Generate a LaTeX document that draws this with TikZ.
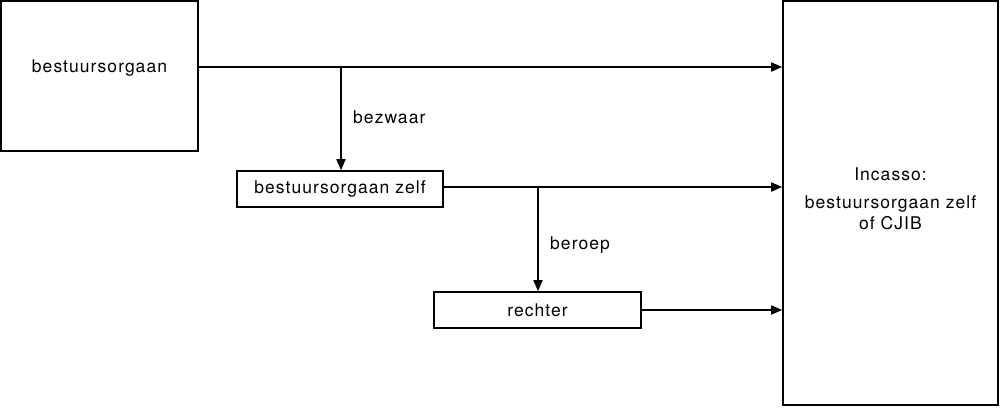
\documentclass[tikz,border=0pt]{standalone}
\usepackage{fontspec}
\setmainfont{TeX Gyre Heros}[LetterSpace=6]
\usetikzlibrary{arrows.meta}
\tikzset{
  box/.style={draw=black, line width=1.6pt, fill=white, inner sep=0pt},
  lbl/.style={font=\fontsize{17.5}{20}\selectfont, inner sep=0pt},
  conn/.style={line width=1.6pt, -{Triangle[length=11pt,width=9pt]}},
  seg/.style={line width=1.6pt}
}
\begin{document}
\begin{tikzpicture}[x=1pt,y=-1pt]
\useasboundingbox (0,0) rectangle (1000,407);
\node[box, minimum width=197pt, minimum height=150pt] (A) at (99.5,76) {};
\node[lbl] (At) at (99.5,68) {bestuursorgaan};
\node[box, minimum width=206pt, minimum height=36pt, lbl] (B) at (340,189) {bestuursorgaan zelf};
\node[box, minimum width=207pt, minimum height=36pt, lbl] (C) at (537.5,310) {rechter};
\node[box, minimum width=215pt, minimum height=404pt] (D) at (890.5,203) {};
\node[lbl, align=center] (Dt) at (890.5,199) {Incasso:\\[8pt]bestuursorgaan zelf\\[1pt]of CJIB};
\coordinate (A1) at (341,67);
\coordinate (B1) at (538,187);
\draw[conn] (A.east |- A1) -- (D.west |- A1);
\draw[conn] (A1) -- (A1 |- B.north);
\draw[conn] (B.east |- B1) -- (D.west |- B1);
\draw[conn] (B1) -- (B1 |- C.north);
\draw[conn] (C.east) -- (D.west |- C.east);
\node[lbl, anchor=west] (L1) at (353,117) {bezwaar};
\node[lbl, anchor=west] (L2) at (550,245) {beroep};
\end{tikzpicture}
\end{document}
